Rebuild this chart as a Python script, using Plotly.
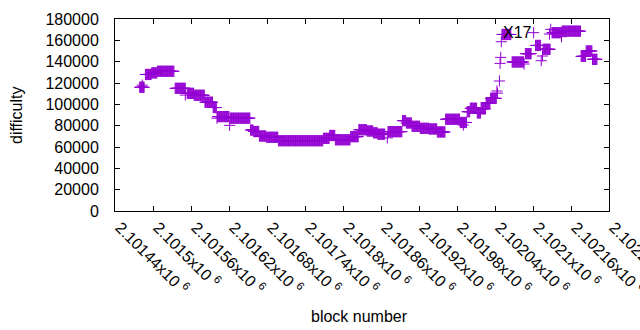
import plotly.graph_objects as go

# Runs of consecutive blocks that share (approximately) the same difficulty
run_start = [2101479, 2101488, 2101498, 2101507, 2101535, 2101554, 2101565, 2101582,
             2101595, 2101602, 2101622, 2101654, 2101659, 2101668, 2101679, 2101698,
             2101769, 2101779, 2101788, 2101812, 2101825, 2101838, 2101848, 2101855,
             2101871, 2101894, 2101900, 2101909, 2101922, 2101936, 2101949, 2101962,
             2101985, 2101996, 2102001, 2102012, 2102018, 2102026, 2102033, 2102051,
             2102067, 2102088, 2102104, 2102116, 2102130, 2102146, 2102176, 2102184,
             2102194]
run_end = [2101486, 2101497, 2101506, 2101533, 2101551, 2101564, 2101581, 2101594,
           2101600, 2101620, 2101653, 2101658, 2101667, 2101678, 2101697, 2101768,
           2101778, 2101787, 2101811, 2101824, 2101837, 2101847, 2101854, 2101866,
           2101893, 2101899, 2101908, 2101921, 2101935, 2101948, 2101961, 2101984,
           2101995, 2102000, 2102011, 2102017, 2102025, 2102032, 2102042, 2102065,
           2102085, 2102097, 2102112, 2102127, 2102145, 2102175, 2102183, 2102193,
           2102201]
run_value = [116000, 128000, 129500, 131000, 115000, 110300, 108500, 102000,
             97000, 88500, 87000, 75900, 74500, 70300, 69100, 65900,
             68100, 70800, 66800, 69700, 76200, 75000, 73300, 72000,
             74400, 84700, 82500, 79400, 77500, 76900, 74100, 86000,
             83000, 93100, 96300, 91900, 95800, 101500, 105600, 165500,
             139700, 147500, 155200, 151600, 167200, 168600, 145000, 150000,
             142200]

# Isolated blocks
single_block = [2101483, 2101551, 2101601, 2101621, 2101870, 2101990, 2102043,
                2102044, 2102047, 2102048, 2102049, 2102050, 2102086, 2102101,
                2102113, 2102115, 2102126, 2102128, 2102145]
single_value = [118000, 108700, 87000, 80300, 68500, 80600, 112500,
                110500, 121900, 138400, 144000, 158700, 137800, 167200,
                140900, 145300, 165900, 170300, 163400]

x_tickvals = [2101440, 2101500, 2101560, 2101620, 2101680, 2101740, 2101800,
              2101860, 2101920, 2101980, 2102040, 2102100, 2102160, 2102220]
x_ticktext = ["2.10144x10 <sup>6</sup>", "2.1015x10 <sup>6</sup>", "2.10156x10 <sup>6</sup>",
              "2.10162x10 <sup>6</sup>", "2.10168x10 <sup>6</sup>", "2.10174x10 <sup>6</sup>",
              "2.1018x10 <sup>6</sup>", "2.10186x10 <sup>6</sup>", "2.10192x10 <sup>6</sup>",
              "2.10198x10 <sup>6</sup>", "2.10204x10 <sup>6</sup>", "2.1021x10 <sup>6</sup>",
              "2.10216x10 <sup>6</sup>", "2.10222x10 <sup>6</sup>"]
y_tickvals = [0, 20000, 40000, 60000, 80000, 100000, 120000, 140000, 160000, 180000]

xs, ys = [], []
for s, e, v in zip(run_start, run_end, run_value):
    for b in range(s, e + 1):
        xs.append(b)
        ys.append(v)
xs += single_block
ys += single_value

COLOR = "#9400D3"
FONT = "Liberation Sans, Arial, sans-serif"

fig = go.Figure()
fig.add_trace(go.Scatter(
    x=xs, y=ys, mode="markers", name="X17",
    marker=dict(symbol="cross-thin", size=8, line=dict(width=1, color=COLOR), color=COLOR),
    showlegend=False,
))

axis_common = dict(showline=True, linecolor="black", linewidth=1, mirror="ticks",
                   ticks="inside", ticklen=5, tickwidth=1, tickcolor="black",
                   showgrid=False, zeroline=False, automargin=False,
                   ticklabeloverflow="allow",
                   tickfont=dict(family=FONT, size=16, color="black"))

fig.update_xaxes(range=[2101440, 2102220], tickmode="array", tickvals=x_tickvals,
                 ticktext=x_ticktext, tickangle=45, ticklabelstandoff=0,
                 ticklabelshift=5, **axis_common)
fig.update_yaxes(range=[0, 180000], tickmode="array", tickvals=y_tickvals,
                 tickformat="d", ticklabelstandoff=12, **axis_common)

fig.update_layout(
    width=640, height=330,
    margin=dict(l=115, r=31, t=19, b=119),
    plot_bgcolor="white", paper_bgcolor="white",
    font=dict(family=FONT, size=16, color="black"),
    annotations=[
        dict(text="difficulty", xref="paper", yref="paper", x=(16 - 115) / 494, y=0.5,
             textangle=-90, showarrow=False, xanchor="center", yanchor="middle",
             font=dict(family=FONT, size=16)),
        dict(text="block number", xref="paper", yref="paper", x=(359 - 115) / 494,
             y=-(316 - 211) / 192, showarrow=False, xanchor="center", yanchor="middle",
             font=dict(family=FONT, size=16)),
        dict(text="X17", xref="paper", yref="paper", x=(534 - 115) / 494,
             y=(211 - 32) / 192, showarrow=False, xanchor="right", yanchor="middle",
             font=dict(family=FONT, size=16)),
    ],
)

fig.write_html("out.html", config={"displayModeBar": False},
               post_script="document.body.style.margin='0';")
